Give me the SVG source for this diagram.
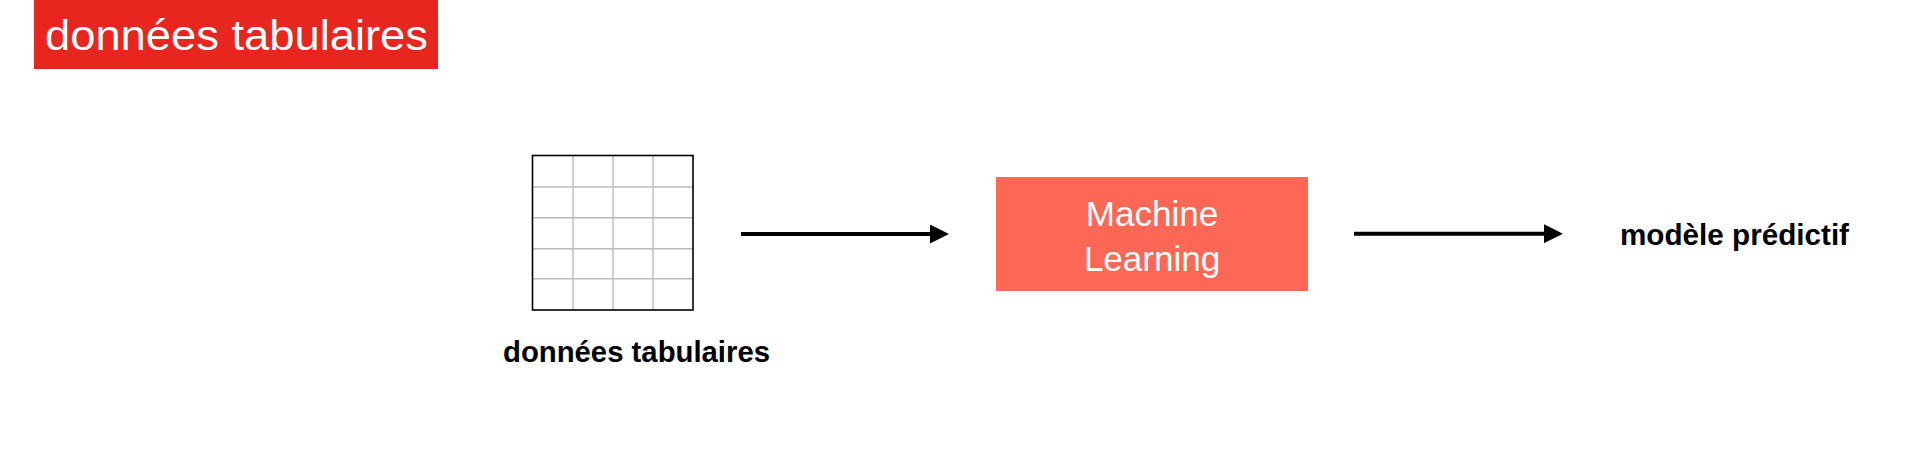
<svg xmlns="http://www.w3.org/2000/svg" width="1920" height="472" viewBox="0 0 1920 472">
  <defs>
    <style>
      .title { font-family: "Liberation Sans", Arial, sans-serif; font-size: 43px; fill: #ffffff; }
      .ml { font-family: "Liberation Sans", Arial, sans-serif; font-size: 35px; fill: #ffffff; text-anchor: middle; }
      .lbl { font-family: "Liberation Sans", Arial, sans-serif; font-weight: bold; font-size: 29.5px; fill: #000000; }
      .grid { stroke: #bbbbbb; stroke-width: 1.4; fill: none; }
      .conn { stroke: #000000; stroke-width: 4; fill: none; }
    </style>
    <marker id="arrow" markerUnits="userSpaceOnUse" markerWidth="19" markerHeight="19" refX="0" refY="9.5" orient="auto">
      <path d="M0,0 L19,9.5 L0,19 Z" fill="#000000"/>
    </marker>
  </defs>
  <rect width="1920" height="472" fill="#ffffff"/>

  <g id="title">
    <rect x="34" y="0" width="404" height="69" fill="#E8261F"/>
    <text class="title" x="45" y="50" textLength="383" lengthAdjust="spacingAndGlyphs">données tabulaires</text>
  </g>

  <g id="node-table">
    <g class="grid">
      <line x1="573" y1="155" x2="573" y2="310"/>
      <line x1="613" y1="155" x2="613" y2="310"/>
      <line x1="653" y1="155" x2="653" y2="310"/>
      <line x1="532" y1="187" x2="693" y2="187"/>
      <line x1="532" y1="217.7" x2="693" y2="217.7"/>
      <line x1="532" y1="248.7" x2="693" y2="248.7"/>
      <line x1="532" y1="278.7" x2="693" y2="278.7"/>
    </g>
    <rect x="532.5" y="155.5" width="160.5" height="154.5" fill="none" stroke="#000000" stroke-width="1.6"/>
    <text class="lbl" x="503" y="361.5" textLength="267" lengthAdjust="spacingAndGlyphs">données tabulaires</text>
  </g>

  <g id="node-ml">
    <rect x="996" y="177" width="312" height="114" fill="#FD6756"/>
    <text class="ml" x="1152" y="226">Machine</text>
    <text class="ml" x="1152" y="271">Learning</text>
  </g>

  <g id="node-model">
    <text class="lbl" x="1620" y="244.5" textLength="229" lengthAdjust="spacingAndGlyphs">modèle prédictif</text>
  </g>

  <g id="connectors">
    <line class="conn" x1="741" y1="234" x2="930" y2="234" marker-end="url(#arrow)"/>
    <line class="conn" x1="1354" y1="233.7" x2="1544" y2="233.7" marker-end="url(#arrow)"/>
  </g>
</svg>
